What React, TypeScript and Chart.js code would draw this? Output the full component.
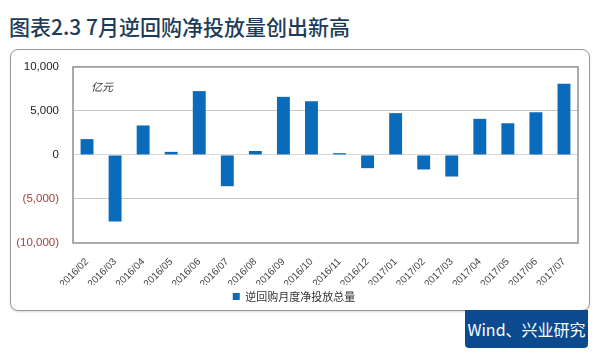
import React, { useEffect, useRef } from "react";
import { Chart, registerables } from "chart.js";

Chart.register(...registerables);

const categories = [
  "2016/02", "2016/03", "2016/04", "2016/05", "2016/06", "2016/07",
  "2016/08", "2016/09", "2016/10", "2016/11", "2016/12", "2017/01",
  "2017/02", "2017/03", "2017/04", "2017/05", "2017/06", "2017/07",
];
const netInjection = [
  1800, -7550, 3350, 350, 7250, -3550, 450, 6600, 6100, 200, -1500, 4750,
  -1650, -2450, 4100, 3600, 4850, 8100,
];
const seriesName = "逆回购月度净投放总量";
const yTicks = [-10000, -5000, 0, 5000, 10000];
const title = "图表2.3 7月逆回购净投放量创出新高";
const unitLabel = "亿元";
const sourceLabel = "Wind、兴业研究";

const fmt = (v: number) => {
  const s = Math.abs(v).toLocaleString("en-US");
  return v < 0 ? `(${s})` : s;
};

const framePlugin = {
  id: "frame",
  afterDatasetsDraw(chart: any) {
    const { ctx, chartArea } = chart;
    ctx.save();
    ctx.strokeStyle = "#8f8f8f";
    ctx.lineWidth = 1.5;
    ctx.strokeRect(chartArea.left, chartArea.top, chartArea.right - chartArea.left, chartArea.bottom - chartArea.top);
    ctx.restore();
  },
};

export default function App() {
  const ref = useRef<HTMLCanvasElement>(null);

  useEffect(() => {
    if (!ref.current) return;
    const chart = new Chart(ref.current, {
      type: "bar",
      data: {
        labels: categories,
        datasets: [
          {
            label: seriesName,
            data: netInjection,
            backgroundColor: "#0b6bbb",
            borderWidth: 0,
            barPercentage: 0.46,
            categoryPercentage: 1,
          },
        ],
      },
      options: {
        animation: false,
        responsive: false,
        maintainAspectRatio: false,
        layout: { padding: { left: 0, right: 11, top: 8, bottom: 0 } },
        plugins: {
          tooltip: { enabled: false },
          legend: {
            position: "bottom",
            labels: {
              boxWidth: 7,
              boxHeight: 7,
              padding: 6,
              color: "#333",
              font: { family: "'Noto Sans CJK SC', sans-serif", size: 11 },
              useBorderRadius: false,
            },
          },
        },
        scales: {
          x: {
            grid: { display: false },
            border: { display: false },
            ticks: {
              minRotation: 45,
              maxRotation: 45,
              autoSkip: false,
              padding: 5,
              color: "#444",
              font: { family: "'Liberation Sans', Arial, sans-serif", size: 10 },
            },
            afterFit: (scale: any) => {
              scale.height = 42;
            },
          },
          y: {
            min: -10000,
            max: 10000,
            afterBuildTicks: (scale: any) => {
              scale.ticks = yTicks.map((v) => ({ value: v }));
            },
            grid: {
              drawTicks: false,
              color: (ctx: any) => {
                const v = ctx.tick?.value;
                if (v === 0) return "#d9d9d9";
                if (v === 10000 || v === -10000) return "rgba(0,0,0,0)";
                return "#c4c4c4";
              },
              lineWidth: 1,
            },
            border: { display: false },
            ticks: {
              padding: 14,
              color: (ctx: any) => (ctx.tick && ctx.tick.value < 0 ? "#a5413d" : "#222"),
              font: { family: "'Liberation Sans', Arial, sans-serif", size: 11.5 },
              callback: (v: any) => fmt(Number(v)),
            },
            afterFit: (scale: any) => {
              scale.width = 63;
            },
          },
        },
      },
      plugins: [framePlugin],
    });
    return () => chart.destroy();
  }, []);

  return (
    <div style={{ position: "fixed", left: 0, top: 0, width: 600, height: 355, background: "#fff", overflow: "hidden" }}>
      <div
        style={{
          position: "absolute",
          left: 9,
          top: 11,
          fontFamily: "'Noto Sans CJK SC', sans-serif",
          fontSize: 21,
          fontWeight: 500,
          color: "#1d3c5a",
          whiteSpace: "nowrap",
          lineHeight: "30px",
        }}
      >
        {title}
      </div>
      <div
        style={{
          position: "absolute",
          left: 10,
          top: 49,
          width: 578,
          height: 260,
          border: "1px solid #9a9a9a",
          borderRadius: 8,
          boxShadow: "0 1px 2px rgba(0,0,0,0.15)",
          background: "#fff",
        }}
      />
      <canvas
        ref={ref}
        width={579}
        height={266}
        style={{ position: "absolute", left: 10, top: 46, width: 579, height: 266 }}
      />
      <div
        style={{
          position: "absolute",
          left: 91,
          top: 78,
          fontFamily: "'Noto Sans CJK SC', sans-serif",
          fontSize: 11,
          color: "#333",
          fontStyle: "italic",
        }}
      >
        {unitLabel}
      </div>
      <div
        style={{
          position: "absolute",
          left: 465,
          top: 310,
          width: 123,
          height: 38,
          background: "#0b4a8e",
          borderRadius: "0 0 4px 4px",
          color: "#fff",
          fontFamily: "'Noto Sans CJK SC', sans-serif",
          fontSize: 16,
          lineHeight: "38px",
          textAlign: "center",
          whiteSpace: "nowrap",
        }}
      >
        {sourceLabel}
      </div>
    </div>
  );
}
